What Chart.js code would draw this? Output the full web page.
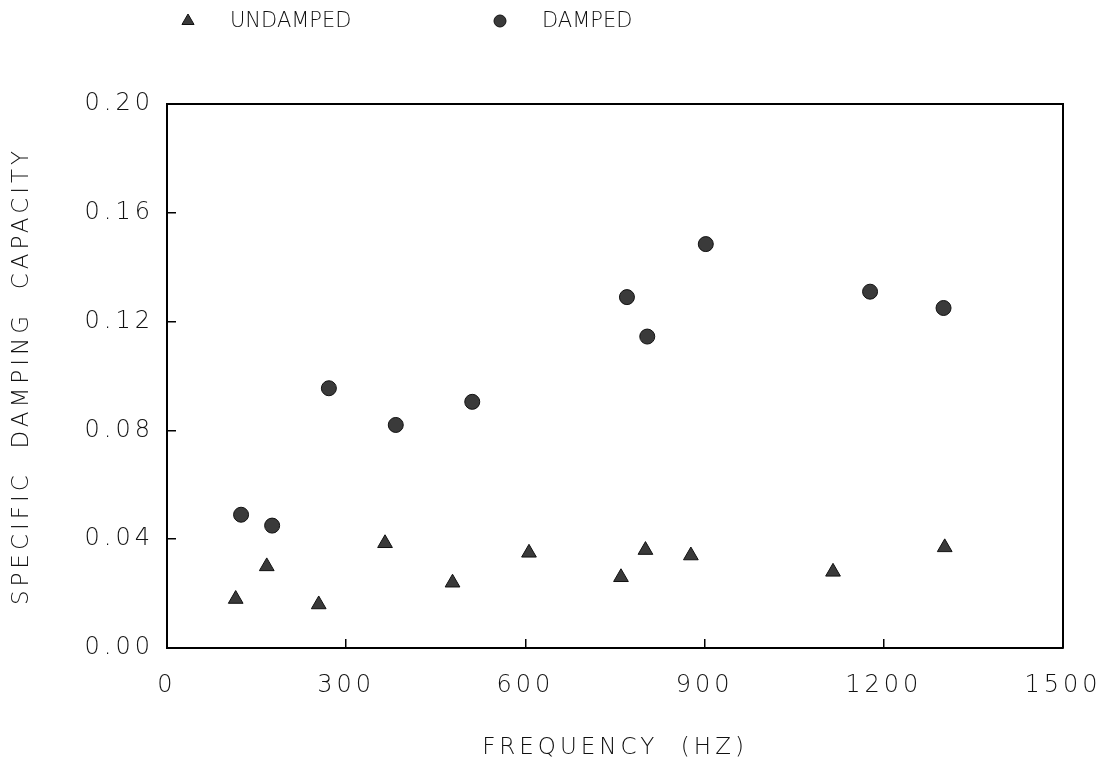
<!DOCTYPE html>
<html>
<head>
<meta charset="utf-8">
<script src="https://cdn.jsdelivr.net/npm/chart.js@4"></script>
<style>
html, body { margin: 0; padding: 0; background: #fff; }
</style>
</head>
<body>
<canvas id="dampingChart" width="1109" height="770"></canvas>
<script>
// Values
const undampedFreq = [115, 167, 254, 365, 478, 606, 760, 801, 877, 1115, 1302];
const undampedSdc = [0.018, 0.030, 0.016, 0.0385, 0.024, 0.035, 0.026, 0.036, 0.034, 0.028, 0.037];
const dampedFreq = [124, 176, 271, 383, 511, 770, 804, 902, 1177, 1300];
const dampedSdc = [0.049, 0.045, 0.0955, 0.082, 0.0905, 0.129, 0.1145, 0.1485, 0.131, 0.125];
const xTicks = [0, 300, 600, 900, 1200, 1500];
const yTicks = [0, 0.04, 0.08, 0.12, 0.16, 0.20];

const FONT = 'DejaVu Sans';
const INK = '#111';

const toPoints = (xs, ys) => xs.map((x, i) => ({ x, y: ys[i] }));

// Old plotter lettering is wide, so spread the axis text a little
const wideText = {
    id: 'wideText',
    beforeDraw(chart) {
        chart.ctx.letterSpacing = '4px';
    }
};

// Closes the box: top and right edges of the plot area
const frameBox = {
    id: 'frameBox',
    afterDraw(chart) {
        const { ctx, chartArea: a } = chart;
        ctx.save();
        ctx.strokeStyle = '#000';
        ctx.lineWidth = 2;
        ctx.beginPath();
        ctx.moveTo(a.left, a.top);
        ctx.lineTo(a.right, a.top);
        ctx.lineTo(a.right, a.bottom);
        ctx.stroke();
        ctx.restore();
    }
};

// Legend row across the top, spread out like the original
const legendRow = {
    id: 'legendRow',
    afterDraw(chart) {
        const ctx = chart.ctx;
        const spots = [{ mark: 188, text: 230 }, { mark: 500, text: 542 }];
        ctx.save();
        ctx.letterSpacing = '0px';
        chart.data.datasets.forEach((ds, i) => {
            ctx.fillStyle = ds.backgroundColor;
            ctx.strokeStyle = ds.borderColor;
            ctx.lineWidth = 1;
            Chart.helpers.drawPoint(ctx, {
                pointStyle: ds.pointStyle,
                radius: ds.pointStyle === 'triangle' ? 7 : 6,
                borderWidth: 1,
                rotation: 0
            }, spots[i].mark, 21);
            ctx.fillStyle = INK;
            ctx.font = '200 21px "' + FONT + '"';
            ctx.textBaseline = 'middle';
            ctx.textAlign = 'left';
            ctx.fillText(ds.label, spots[i].text, 22);
        });
        ctx.restore();
    }
};

new Chart(document.getElementById('dampingChart'), {
    type: 'scatter',
    data: {
        datasets: [{
            label: 'UNDAMPED',
            data: toPoints(undampedFreq, undampedSdc),
            pointStyle: 'triangle',
            pointRadius: 8.5,
            backgroundColor: '#3a3a3a',
            borderColor: '#111',
            borderWidth: 1
        }, {
            label: 'DAMPED',
            data: toPoints(dampedFreq, dampedSdc),
            pointStyle: 'circle',
            pointRadius: 7.5,
            backgroundColor: '#3a3a3a',
            borderColor: '#111',
            borderWidth: 1
        }]
    },
    options: {
        responsive: false,
        animation: false,
        layout: { padding: { top: 104, right: 46, left: 0, bottom: 0 } },
        plugins: {
            legend: { display: false },
            tooltip: { enabled: false }
        },
        scales: {
            x: {
                type: 'linear',
                min: 0,
                max: 1500,
                afterBuildTicks: s => { s.ticks = xTicks.map(v => ({ value: v })); },
                afterFit: s => { s.height = 122; s.paddingRight = 10; },
                grid: { drawOnChartArea: false, tickLength: -9, color: '#000', lineWidth: 1.5 },
                border: { color: '#000', width: 2 },
                ticks: {
                    padding: 32,
                    color: INK,
                    font: { family: FONT, size: 24, weight: '200' },
                    callback: v => String(v)
                },
                title: {
                    display: true,
                    text: 'FREQUENCY  (HZ)',
                    color: INK,
                    padding: { top: 0, bottom: 8 },
                    font: { family: FONT, size: 23, weight: '200' }
                }
            },
            y: {
                type: 'linear',
                min: 0,
                max: 0.2,
                afterBuildTicks: s => { s.ticks = yTicks.map(v => ({ value: v })); },
                afterFit: s => { s.width = 167; },
                grid: { drawOnChartArea: false, tickLength: -9, color: '#000', lineWidth: 1.5 },
                border: { color: '#000', width: 2 },
                ticks: {
                    padding: 22,
                    color: INK,
                    font: { family: FONT, size: 24, weight: '200' },
                    callback: v => v.toFixed(2)
                },
                title: {
                    display: true,
                    text: 'SPECIFIC  DAMPING  CAPACITY',
                    color: INK,
                    padding: { top: 8, bottom: 0 },
                    font: { family: FONT, size: 23, weight: '200' }
                }
            }
        }
    },
    plugins: [wideText, frameBox, legendRow]
});
</script>
</body>
</html>
